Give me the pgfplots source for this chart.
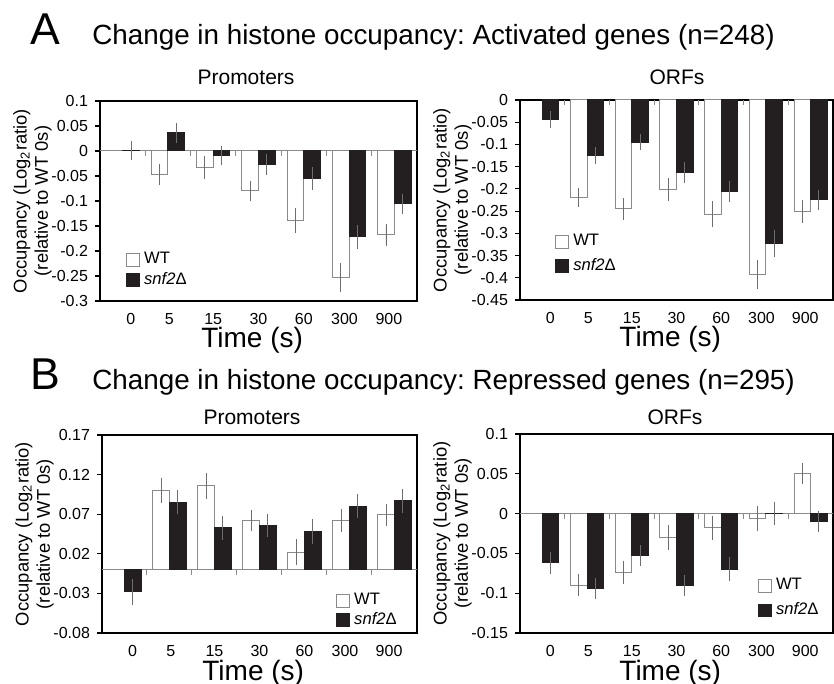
\documentclass[border=0pt]{standalone}
\usepackage{pgfplots}
\pgfplotsset{compat=1.18}
\usepackage{fontspec}
\setmainfont{Liberation Sans}
\frenchspacing

\definecolor{barblk}{HTML}{231F20}
\definecolor{edge}{HTML}{8A8A8A}
\definecolor{errc}{HTML}{6E6E6E}

% bars sit at category -0.185 (WT) and +0.185 (snf2)
\pgfplotsset{
  occ/.style={
    scale only axis, anchor=south west, clip=false,
    xmin=-0.5, xmax=6.5,
    xtick={0.18,1.03,2,3,4,4.9,5.88},
    xticklabels={0,5,15,30,60,300,900},
    xtick style={draw=none},
    tick align=outside, major tick length=2.5pt,
    ytick pos=left,
    axis line style={line width=0.6pt},
    every tick/.style={black, line width=0.6pt},
    /pgf/number format/assume math mode=true,
    yticklabel style={/pgf/number format/fixed, /pgf/number format/precision=2},
    tick label style={font=\fontsize{8}{9.6}\selectfont},
    ylabel={Occupancy (Log\textsubscript{2}ratio)\\(relative to WT 0s)},
    ylabel style={align=center, font=\fontsize{9.2}{10.6}\selectfont},
    ylabel shift=-7pt,
    xlabel={Time (s)},
    xlabel style={font=\fontsize{14}{16}\selectfont, at={(axis description cs:0.48,0)},
      anchor=base, yshift=-23.5pt},
    legend style={draw=none, fill=none, inner sep=0pt, anchor=north west,
      font=\fontsize{8.3}{10}\selectfont},
    legend cell align=left,
  },
  wt/.style={ybar, bar width=0.37, bar shift=0, fill=white, draw=edge, line width=0.5pt,
    legend image code/.code={\draw[fill=white, draw=edge, line width=0.5pt] (0pt,-3.2pt) rectangle (6.4pt,3.2pt);},
    error bars/.cd, y dir=both, y explicit,
    error bar style={errc, line width=0.45pt},
    error mark options={errc, mark size=1.2pt, line width=0.45pt}},
  ko/.style={ybar, bar width=0.37, bar shift=0, fill=barblk, draw=barblk, line width=0.5pt,
    legend image code/.code={\draw[fill=barblk, draw=barblk] (0pt,-3.2pt) rectangle (6.4pt,3.2pt);},
    error bars/.cd, y dir=both, y explicit,
    error bar style={errc, line width=0.45pt},
    error mark options={errc, mark size=1.2pt, line width=0.45pt}},
}

\begin{document}
\begin{tikzpicture}
\path[use as bounding box] (0pt,0pt) rectangle (417pt,342pt);

% panel letters and titles
\node[anchor=base west, inner sep=0pt, font=\fontsize{22.3}{24}\selectfont] at (15pt,319.5pt) {A};
\node[anchor=base west, inner sep=0pt, font=\fontsize{13.9}{16}\selectfont] at (46pt,319.5pt)
  {Change in histone occupancy: Activated genes (n=248)};
\node[anchor=base, inner sep=0pt, font=\fontsize{10.5}{12}\selectfont] at (123pt,299.5pt) {Promoters};
\node[anchor=base, inner sep=0pt, font=\fontsize{10.5}{12}\selectfont] at (338.5pt,299.5pt) {ORFs};

\node[anchor=base west, inner sep=0pt, font=\fontsize{22.3}{24}\selectfont] at (15pt,147pt) {B};
\node[anchor=base west, inner sep=0pt, font=\fontsize{13.9}{16}\selectfont] at (46pt,147pt)
  {Change in histone occupancy: Repressed genes (n=295)};
\node[anchor=base, inner sep=0pt, font=\fontsize{10.5}{12}\selectfont] at (126pt,129.5pt) {Promoters};
\node[anchor=base, inner sep=0pt, font=\fontsize{10.5}{12}\selectfont] at (337.5pt,129.5pt) {ORFs};

% A, promoters
\begin{axis}[occ, at={(50pt,191.5pt)}, width=158.5pt, height=100pt,
  ymin=-0.3, ymax=0.1, ytick={-0.3,-0.25,...,0.1},
  legend style={at={(0.082,0.265)}, row sep=-1pt}]
\draw[edge, line width=0.5pt] (axis cs:-0.5,0) -- (axis cs:6.5,0);
\pgfplotsinvokeforeach{0.5,1.5,2.5,3.5,4.5,5.5}{\draw[edge, line width=0.5pt] (axis cs:#1,0) -- ++(0pt,-2.5pt);}
\addplot[wt] coordinates {
  (0.815,-0.047) +- (0,0.017)
  (1.815,-0.033) +- (0,0.018)
  (2.815,-0.080) +- (0,0.016)
  (3.815,-0.139) +- (0,0.020)
  (4.815,-0.253) +- (0,0.024)
  (5.815,-0.168) +- (0,0.018)
};
\addlegendentry{WT}
\addplot[ko] coordinates {
  (0.185,0.001) +- (0,0.014)
  (1.185,0.036) +- (0,0.016)
  (2.185,-0.009) +- (0,0.015)
  (3.185,-0.027) +- (0,0.016)
  (4.185,-0.055) +- (0,0.018)
  (5.185,-0.172) +- (0,0.019)
  (6.185,-0.106) +- (0,0.015)
};
\addlegendentry{\textit{snf2}Δ}
\end{axis}

% A, ORFs
\begin{axis}[occ, at={(260pt,192pt)}, width=156.5pt, height=100pt,
  ymin=-0.45, ymax=0, ytick={-0.45,-0.4,...,0},
  legend style={at={(0.112,0.35)}, row sep=1pt}]
\pgfplotsinvokeforeach{0.5,1.5,2.5,3.5,4.5,5.5}{\draw[edge, line width=0.5pt] (axis cs:#1,0) -- ++(0pt,-2.5pt);}
\addplot[wt] coordinates {
  (0.815,-0.219) +- (0,0.016)
  (1.815,-0.245) +- (0,0.019)
  (2.815,-0.201) +- (0,0.020)
  (3.815,-0.257) +- (0,0.024)
  (4.815,-0.392) +- (0,0.027)
  (5.815,-0.251) +- (0,0.020)
};
\addlegendentry{WT}
\addplot[ko] coordinates {
  (0.185,-0.044) +- (0,0.013)
  (1.185,-0.125) +- (0,0.013)
  (2.185,-0.095) +- (0,0.012)
  (3.185,-0.164) +- (0,0.018)
  (4.185,-0.205) +- (0,0.018)
  (5.185,-0.323) +- (0,0.024)
  (6.185,-0.225) +- (0,0.017)
};
\addlegendentry{\textit{snf2}Δ}
\end{axis}

% B, promoters
\begin{axis}[occ, at={(51pt,25.5pt)}, width=157.5pt, height=99pt,
  ymin=-0.08, ymax=0.17, ytick={-0.08,-0.03,0.02,0.07,0.12,0.17},
  legend style={at={(0.743,0.222)}, row sep=-1.5pt}]
\draw[edge, line width=0.5pt] (axis cs:-0.5,0) -- (axis cs:6.5,0);
\pgfplotsinvokeforeach{0.5,1.5,2.5,3.5,4.5,5.5}{\draw[edge, line width=0.5pt] (axis cs:#1,0) -- ++(0pt,-2.5pt);}
\addplot[wt] coordinates {
  (0.815,0.100) +- (0,0.013)
  (1.815,0.106) +- (0,0.0135)
  (2.815,0.062) +- (0,0.0105)
  (3.815,0.022) +- (0,0.0135)
  (4.815,0.062) +- (0,0.0115)
  (5.815,0.069) +- (0,0.011)
};
\addlegendentry{WT}
\addplot[ko] coordinates {
  (0.185,-0.028) +- (0,0.013)
  (1.185,0.085) +- (0,0.012)
  (2.185,0.053) +- (0,0.012)
  (3.185,0.056) +- (0,0.0115)
  (4.185,0.048) +- (0,0.0125)
  (5.185,0.080) +- (0,0.012)
  (6.185,0.087) +- (0,0.012)
};
\addlegendentry{\textit{snf2}Δ}
\end{axis}

% B, ORFs
\begin{axis}[occ, at={(260pt,25.5pt)}, width=156.5pt, height=99.5pt,
  ymin=-0.15, ymax=0.1, ytick={-0.15,-0.1,...,0.1},
  legend style={at={(0.76,0.296)}, row sep=1pt}]
\draw[edge, line width=0.5pt] (axis cs:-0.5,0) -- (axis cs:6.5,0);
\pgfplotsinvokeforeach{0.5,1.5,2.5,3.5,4.5,5.5}{\draw[edge, line width=0.5pt] (axis cs:#1,0) -- ++(0pt,-2.5pt);}
\addplot[wt] coordinates {
  (0.815,-0.090) +- (0,0.0105)
  (1.815,-0.074) +- (0,0.0115)
  (2.815,-0.030) +- (0,0.0125)
  (3.815,-0.018) +- (0,0.012)
  (4.815,-0.0065) +- (0,0.0125)
  (5.815,0.050) +- (0,0.010)
};
\addlegendentry{WT}
\addplot[ko] coordinates {
  (0.185,-0.062) +- (0,0.0105)
  (1.185,-0.094) +- (0,0.0105)
  (2.185,-0.053) +- (0,0.010)
  (3.185,-0.0905) +- (0,0.010)
  (4.185,-0.070) +- (0,0.012)
  (5.185,0.0005) +- (0,0.0115)
  (6.185,-0.010) +- (0,0.0105)
};
\addlegendentry{\textit{snf2}Δ}
\end{axis}
\end{tikzpicture}
\end{document}
